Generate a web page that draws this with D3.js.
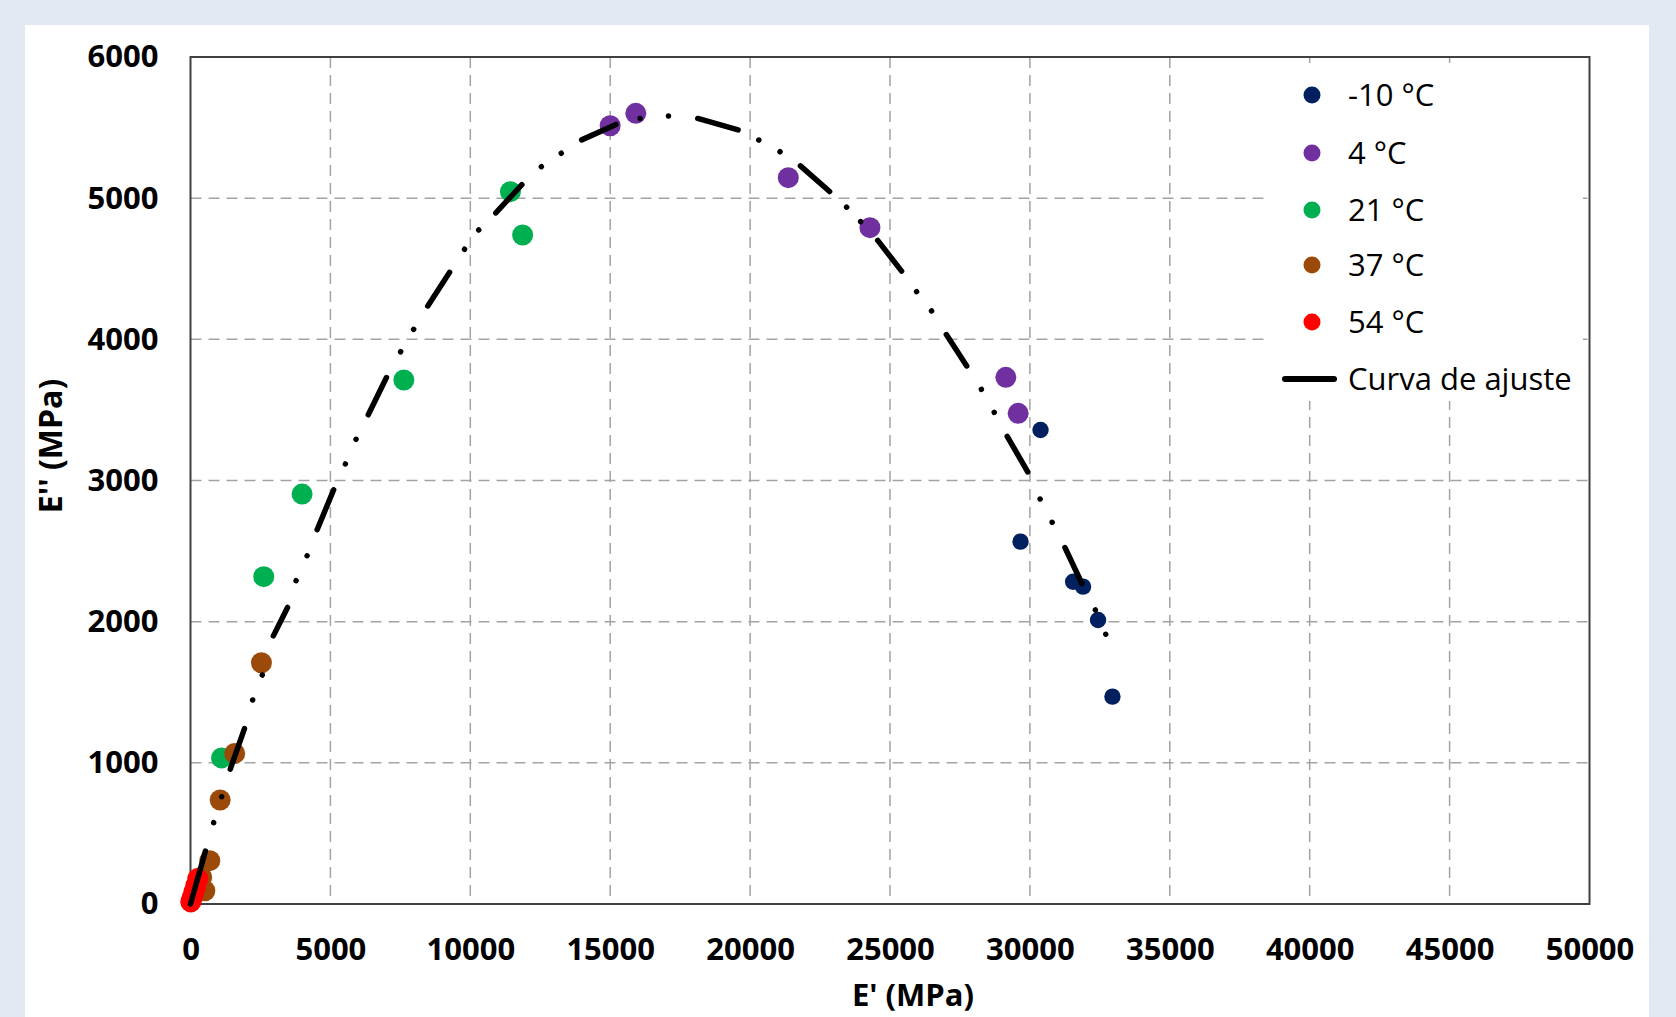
<!DOCTYPE html>
<html>
<head>
<meta charset="utf-8">
<script src="https://cdn.jsdelivr.net/npm/d3@7"></script>
<style>
  body { margin: 0; background: #e2e9f3; }
  svg { display: block; }
  text { font-family: "Open Sans", Lato, sans-serif; fill: #000; }
</style>
</head>
<body>
<svg id="chart" width="1676" height="1017"></svg>
<script>
// datos: E' y E'' en MPa
const xTicks = [0, 5000, 10000, 15000, 20000, 25000, 30000, 35000, 40000, 45000, 50000];
const yTicks = [0, 1000, 2000, 3000, 4000, 5000, 6000];

const seriesNames = ["-10 °C", "4 °C", "21 °C", "37 °C", "54 °C"];

const e1_m10 = [30380, 29665, 31545, 31900, 32435, 32950];
const e2_m10 = [3358, 2567, 2283, 2248, 2012, 1469];

const e1_4 = [14998, 15915, 21365, 24283, 29140, 29580];
const e2_4 = [5513, 5601, 5145, 4791, 3731, 3476];

const e1_21 = [11435, 11870, 7625, 3988, 2618, 1110];
const e2_21 = [5046, 4739, 3712, 2904, 2319, 1035];

const e1_37 = [2535, 1578, 1060, 690, 512, 400];
const e2_37 = [1709, 1067, 737, 307, 94, 190];

const e1_54 = [10, 60, 120, 190, 260];
const e2_54 = [15, 45, 85, 130, 180];

// curva de ajuste (cada 4 puntos: inicio raya, fin raya, punto, punto)
const fitE1 = [0, 561, 828, 1114, 1389, 1961, 2221, 2564, 2917, 3512, 3773, 4166, 4488, 5154,
  5535, 5916, 6310, 7046, 7510, 7975, 8427, 9314, 9793, 10300, 10845, 11910, 12540, 13250,
  13890, 15297, 16070, 17083, 18034, 19665, 20310, 21070, 21725, 22915, 23450, 23950, 24500,
  25475, 25950, 26485, 26960, 27795, 28265, 28725, 29140, 29970, 30365, 30795, 31210, 31900,
  32340, 32710];
const fitE2 = [0, 394, 576, 760, 937, 1261, 1445, 1622, 1882, 2118, 2290, 2467, 2633, 2952,
  3117, 3292, 3448, 3747, 3912, 4071, 4220, 4491, 4638, 4775, 4881, 5110, 5223, 5318,
  5405, 5530, 5565, 5582, 5570, 5478, 5412, 5329, 5242, 5034, 4936, 4834, 4716,
  4468, 4338, 4201, 4050, 3795, 3646, 3483, 3330, 3044, 2869, 2704, 2543, 2253,
  2083, 1911];
const fitName = "Curva de ajuste";

// estilos
const colors = ["#002060", "#7030a0", "#00b050", "#9c4a0a", "#ff0000"];
const radii = [8.2, 10.5, 10.5, 10.5, 10.5];
const curveWidth = 5.5;

const svg = d3.select("#chart");

// panel blanco
svg.append("rect")
  .attr("x", 25).attr("y", 25)
  .attr("width", 1624).attr("height", 1000)
  .attr("fill", "#fff");

const x = d3.scaleLinear().domain([0, 50000]).range([190.5, 1589.5]);
const y = d3.scaleLinear().domain([0, 6000]).range([904, 57]);

// rejilla
const grid = svg.append("g")
  .attr("stroke", "#a3a3a3")
  .attr("stroke-width", 1.5)
  .attr("stroke-dasharray", "11,7");

grid.selectAll("line.h")
  .data(yTicks.filter(d => d > 0 && d < 6000))
  .enter().append("line")
  .attr("class", "h")
  .attr("x1", x(0)).attr("x2", x(50000))
  .attr("y1", d => y(d)).attr("y2", d => y(d));

grid.selectAll("line.v")
  .data(xTicks.filter(d => d > 0 && d < 50000))
  .enter().append("line")
  .attr("class", "v")
  .attr("y1", y(6000)).attr("y2", y(0))
  .attr("x1", d => x(d)).attr("x2", d => x(d));

// fondo de la leyenda tapa la rejilla
svg.append("rect")
  .attr("x", 1268).attr("y", 63)
  .attr("width", 315).attr("height", 338)
  .attr("fill", "#fff");

// marco
svg.append("rect")
  .attr("x", x(0)).attr("y", y(6000))
  .attr("width", x(50000) - x(0)).attr("height", y(0) - y(6000))
  .attr("fill", "none")
  .attr("stroke", "#404040")
  .attr("stroke-width", 2);

// ejes
const yAxis = svg.append("g")
  .attr("transform", `translate(${x(0)},0)`)
  .call(d3.axisLeft(y).tickValues(yTicks).tickSize(0).tickPadding(32).tickFormat(d3.format("d")));
const xAxis = svg.append("g")
  .attr("transform", `translate(0,${y(0)})`)
  .call(d3.axisBottom(x).tickValues(xTicks).tickSize(0).tickPadding(34).tickFormat(d3.format("d")));

[yAxis, xAxis].forEach(a => {
  a.select(".domain").remove();
  a.selectAll("text")
    .attr("font-family", "'Open Sans', sans-serif")
    .attr("font-size", 31)
    .attr("font-weight", "bold")
    .attr("fill", "#000");
});

// titulos de ejes
svg.append("text")
  .attr("x", 913).attr("y", 1006)
  .attr("text-anchor", "middle")
  .attr("font-size", 31)
  .attr("font-weight", "bold")
  .text("E' (MPa)");

svg.append("text")
  .attr("transform", "translate(62,446) rotate(-90)")
  .attr("text-anchor", "middle")
  .attr("font-size", 32)
  .attr("font-weight", "bold")
  .text("E'' (MPa)");

// puntos
const seriesX = [e1_m10, e1_4, e1_21, e1_37, e1_54];
const seriesY = [e2_m10, e2_4, e2_21, e2_37, e2_54];

seriesX.forEach((xs, i) => {
  svg.append("g")
    .selectAll("circle")
    .data(xs.map((v, j) => [v, seriesY[i][j]]))
    .enter().append("circle")
    .attr("cx", d => x(d[0]))
    .attr("cy", d => y(d[1]))
    .attr("r", radii[i])
    .attr("fill", colors[i]);
});

// curva: raya larga - punto - punto
const fitPts = fitE1.map((v, i) => [v, fitE2[i]]);
const line = d3.line()
  .x(d => x(d[0]))
  .y(d => y(d[1]));

// longitud acumulada en pixeles en cada vertice
const cum = [0];
for (let i = 1; i < fitPts.length; i++) {
  const dx = x(fitPts[i][0]) - x(fitPts[i - 1][0]);
  const dy = y(fitPts[i][1]) - y(fitPts[i - 1][1]);
  cum.push(cum[i - 1] + Math.hypot(dx, dy));
}

// tramos visibles del patron
const segs = [];
for (let i = 0; i + 3 < fitPts.length; i += 4) {
  const s = i === 0 ? 0 : cum[i] + curveWidth / 2;
  const e = cum[i + 1] - curveWidth / 2;
  segs.push([s, e]);
  segs.push([cum[i + 2] - 0.01, cum[i + 2]]);
  segs.push([cum[i + 3] - 0.01, cum[i + 3]]);
}
const dash = [];
let pos = 0;
segs.forEach(([a, b], k) => {
  if (k > 0) dash.push(a - pos);
  dash.push(b - a);
  pos = b;
});
dash.push(cum[cum.length - 1] + 100);

svg.append("path")
  .datum(fitPts)
  .attr("d", line)
  .attr("fill", "none")
  .attr("stroke", "#000")
  .attr("stroke-width", curveWidth)
  .attr("stroke-linecap", "round")
  .attr("stroke-linejoin", "round")
  .attr("stroke-dasharray", dash.map(v => v.toFixed(2)).join(","));

// leyenda
const legY = [95, 153, 210, 265, 322];
const leg = svg.append("g");
seriesNames.forEach((name, i) => {
  leg.append("circle")
    .attr("cx", 1312).attr("cy", legY[i])
    .attr("r", 8.5)
    .attr("fill", colors[i]);
  leg.append("text")
    .attr("x", 1348).attr("y", legY[i])
    .attr("dy", "0.36em")
    .attr("font-size", 31)
    .text(name);
});
leg.append("line")
  .attr("x1", 1285).attr("x2", 1334)
  .attr("y1", 379).attr("y2", 379)
  .attr("stroke", "#000")
  .attr("stroke-width", 6)
  .attr("stroke-linecap", "round");
leg.append("text")
  .attr("x", 1348).attr("y", 379)
  .attr("dy", "0.36em")
  .attr("font-size", 31)
  .text(fitName);
</script>
</body>
</html>
